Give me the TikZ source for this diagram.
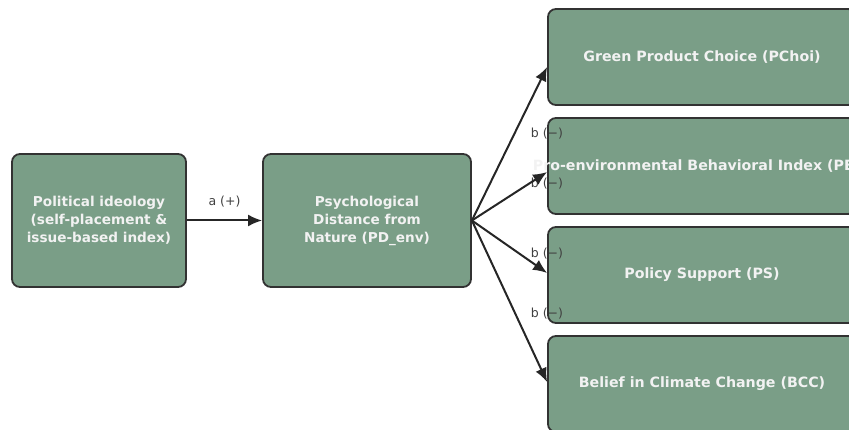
\documentclass[tikz,border=0pt]{standalone}
\usepackage{fontspec}
\setmainfont{DejaVu Sans}
\usetikzlibrary{arrows.meta}
\definecolor{sage}{RGB}{122,158,135}
\definecolor{edgegray}{RGB}{50,50,50}
\definecolor{boxtext}{RGB}{242,242,242}
\tikzstyle{var} = [rectangle, rounded corners=8pt, draw=edgegray, line width=1.8pt, fill=sage, text=boxtext, font=\bfseries\fontsize{13.6}{18}\selectfont, align=center, inner sep=0pt]
\tikzstyle{outc} = [var, minimum width=308pt, minimum height=96pt, font=\bfseries\fontsize{14.2}{18}\selectfont]
\tikzstyle{arrow} = [line width=2pt, draw=black!85, -{Latex[length=14pt,width=12pt]}]
\tikzstyle{coef} = [font=\fontsize{12.5}{14}\selectfont, text=black!75, inner sep=0pt]

\begin{document}
\begin{tikzpicture}[x=1pt,y=-1pt]
\useasboundingbox (0,0) rectangle (849,430);
\clip (0,0) rectangle (849,430);

% Drawing nodes
\node (pol) [var, minimum width=174pt, minimum height=133pt] at (99,220.5) {Political ideology\\(self-placement \&\\issue-based index)};
\node (pd) [var, minimum width=208pt, minimum height=133pt] at (367,220.5) {Psychological\\Distance from\\Nature (PD\_env)};
\node (pchoi) [outc] at (702,57) {Green Product Choice (PChoi)};
\node (peb) [outc] at (702,166) {\makebox[0pt]{Pro-environmental Behavioral Index (PEB)}};
\node (ps) [outc] at (702,275) {Policy Support (PS)};
\node (bcc) [outc] at (702,384) {Belief in Climate Change (BCC)};

% Drawing labels
\node (la) [coef] at (224.5,202) {a (+)};
\node (lb1) [coef] at (547,134) {b (−)};
\node (lb2) [coef] at (547,184) {b (−)};
\node (lb3) [coef] at (547,254) {b (−)};
\node (lb4) [coef] at (547,314) {b (−)};

% Drawing arrows
\draw [arrow] (pol) -- (pd);
\draw [arrow] (pd.east) -- ([yshift=-10pt]pchoi.west);
\draw [arrow] (pd.east) -- ([yshift=-6pt]peb.west);
\draw [arrow] (pd.east) -- ([yshift=2pt]ps.west);
\draw [arrow] (pd.east) -- ([yshift=2pt]bcc.west);
\end{tikzpicture}
\end{document}
